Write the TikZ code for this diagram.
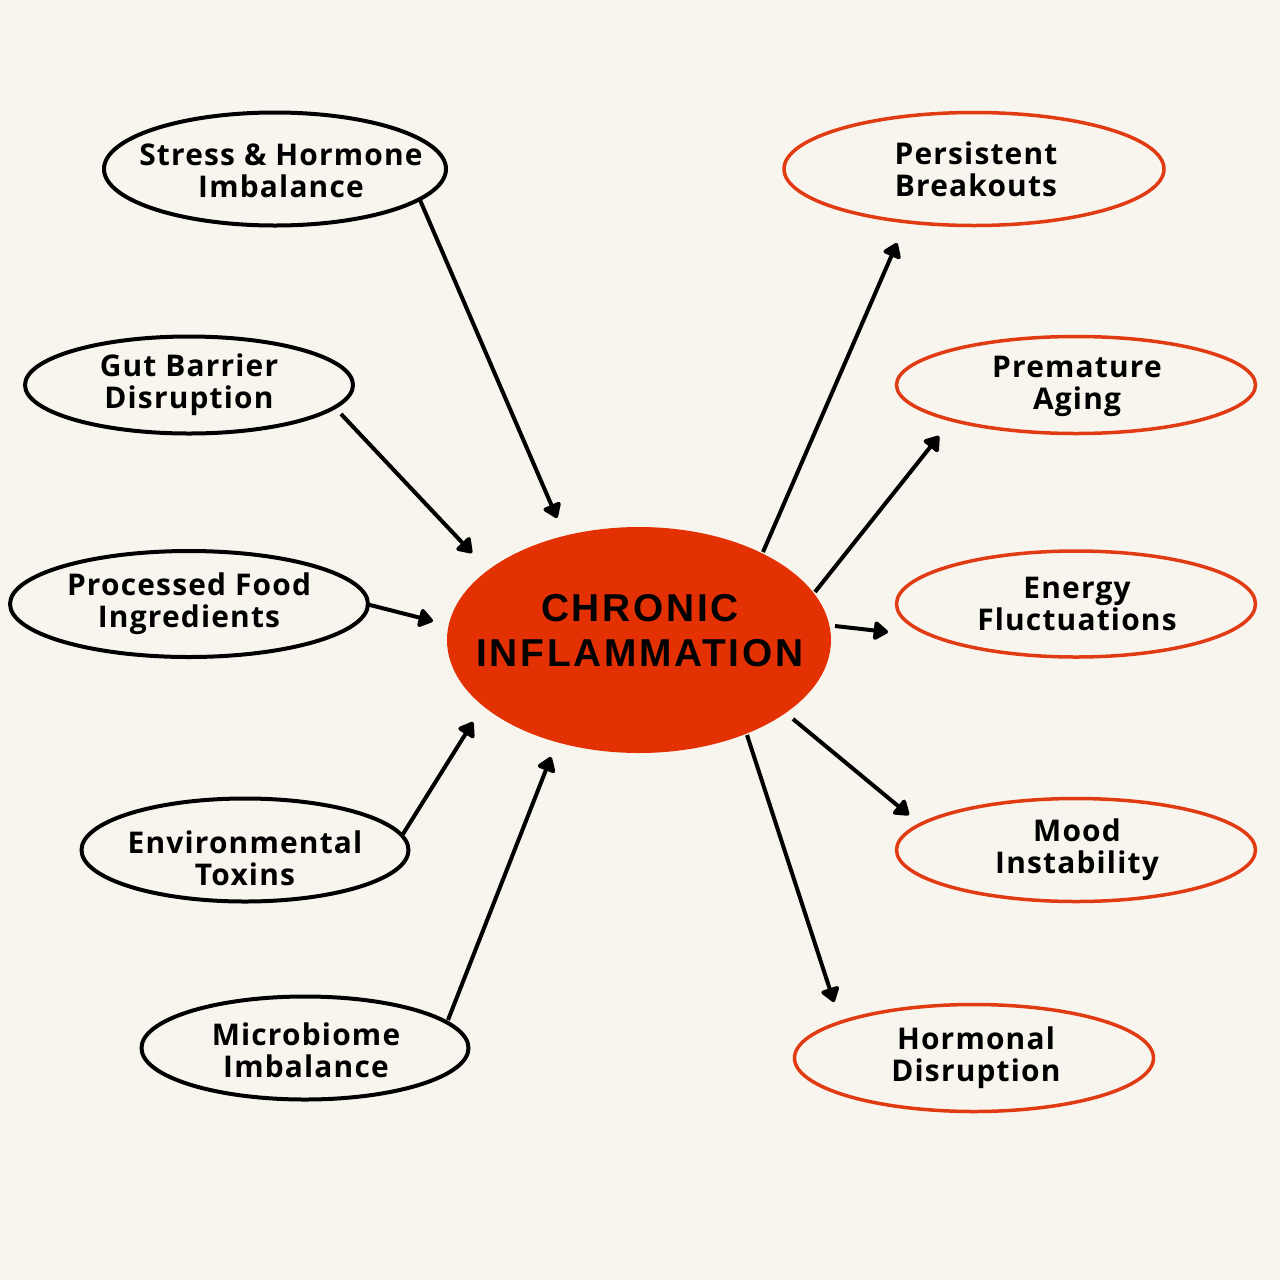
\documentclass[tikz,border=0pt]{standalone}
\usepackage{fontspec}
\usetikzlibrary{shapes.geometric,arrows.meta}
\newfontfamily\labfont{Open Sans}[LetterSpace=4]
\newfontfamily\cenfont{Liberation Sans}[LetterSpace=7]
\definecolor{bg}{HTML}{F8F5EE}
\definecolor{infred}{HTML}{E33104}
\definecolor{outred}{HTML}{E13B14}
\tikzset{
  lab/.style={align=center, inner sep=0pt, font=\labfont\bfseries\fontsize{30}{32}\selectfont, text=black},
  cause/.style={ellipse, draw=black, line width=4bp, fill=bg, inner sep=0pt},
  effect/.style={ellipse, draw=outred, line width=3.5bp, fill=bg, inner sep=0pt},
  core/.style={ellipse, fill=infred, inner sep=0pt},
  corelab/.style={align=center, inner sep=0pt, font=\cenfont\bfseries\fontsize{39}{45}\selectfont, text=black},
  arr/.style={line width=4bp, draw=black, -{Triangle[length=16bp,width=21bp,round]}}
}
\begin{document}
\begin{tikzpicture}[x=1bp,y=-1bp]
\fill[bg] (0,0) rectangle (1280,1280);
\useasboundingbox (0,0) rectangle (1280,1280);
% center
\node[core, minimum width=384bp, minimum height=226bp] (core) at (639,640) {};
\node[corelab] (corel) at (640,631) {CHRONIC\\INFLAMMATION};
% causes
\node[cause, minimum width=342bp, minimum height=113bp] (stress) at (275,169) {};
\node[lab] (stressl) at (281,171) {Stress \& Hormone\\Imbalance};
\node[cause, minimum width=328bp, minimum height=97bp] (gut) at (189,385) {};
\node[lab] (gutl) at (189,385) {Gut Barrier\\Disruption};
\node[cause, minimum width=358bp, minimum height=106bp] (proc) at (189,604) {};
\node[lab] (procl) at (189,604) {Processed Food\\Ingredients};
\node[cause, minimum width=327bp, minimum height=103bp] (env) at (245,850) {};
\node[lab] (envl) at (245,858) {Environmental\\Toxins};
\node[cause, minimum width=327bp, minimum height=103bp] (micro) at (305,1048) {};
\node[lab] (microl) at (306,1050) {Microbiome\\Imbalance};
% effects
\node[effect, minimum width=380bp, minimum height=113bp] (pers) at (974,169) {};
\node[lab] (persl) at (976,169) {Persistent\\Breakouts};
\node[effect, minimum width=359bp, minimum height=97bp] (prem) at (1076,385) {};
\node[lab] (preml) at (1077,386) {Premature\\Aging};
\node[effect, minimum width=359bp, minimum height=106bp] (energy) at (1076,604) {};
\node[lab] (energyl) at (1077,604) {Energy\\Fluctuations};
\node[effect, minimum width=359bp, minimum height=103bp] (mood) at (1076,850) {};
\node[lab] (moodl) at (1077,850) {Mood\\Instability};
\node[effect, minimum width=359bp, minimum height=107bp] (horm) at (974,1058) {};
\node[lab] (horml) at (976,1058) {Hormonal\\Disruption};
% connector ends
\coordinate (s1) at (420,200); \coordinate (t1) at (557,518);
\coordinate (s2) at (341,414); \coordinate (t2) at (472,553);
\coordinate (s3) at (366,604); \coordinate (t3) at (433,621);
\coordinate (s4) at (403,834); \coordinate (t4) at (473,722);
\coordinate (s5) at (448,1020); \coordinate (t5) at (551,757);
\coordinate (v1) at (763,552); \coordinate (u1) at (897,243);
\coordinate (v2) at (815,592); \coordinate (u2) at (939,436);
\coordinate (v3) at (835,626); \coordinate (u3) at (888,632);
\coordinate (v4) at (793,719); \coordinate (u4) at (909,815);
\coordinate (v5) at (747,735); \coordinate (u5) at (834,1002);
% connectors
\draw[arr] (s1) -- (t1);
\draw[arr] (s2) -- (t2);
\draw[arr] (s3) -- (t3);
\draw[arr] (s4) -- (t4);
\draw[arr] (s5) -- (t5);
\draw[arr] (v1) -- (u1);
\draw[arr] (v2) -- (u2);
\draw[arr] (v3) -- (u3);
\draw[arr] (v4) -- (u4);
\draw[arr] (v5) -- (u5);
\end{tikzpicture}
\end{document}
